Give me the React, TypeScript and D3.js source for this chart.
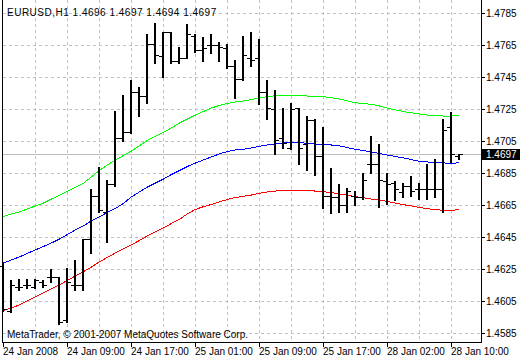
import React from "react";
import * as d3 from "d3";

const symbol = "EURUSD,H1";
const copyright = "MetaTrader, \u00A9 2001-2007 MetaQuotes Software Corp.";

const open = [1.4627,1.4599,1.4614,1.4615,1.4614,1.4617,1.4620,1.4620,1.4593,1.4615,
1.4615,1.4644,1.4671,1.4661,1.4678,1.4707,1.4711,1.4736,1.4733,1.4766,
1.4758,1.4773,1.4755,1.4757,1.4771,1.4762,1.4765,1.4765,1.4763,1.4752,
1.4744,1.4757,1.4757,1.4736,1.4725,1.4707,1.4701,1.4726,1.4703,1.4718,
1.4696,1.4671,1.4670,1.4665,1.4671,1.4670,1.4691,1.4691,1.4680,1.4679,
1.4673,1.4677,1.4675,1.4675,1.4675,1.4675,1.4714,1.4696];
const high = [1.4629,1.4618,1.4619,1.4619,1.4619,1.4618,1.4625,1.4620,1.4626,1.4631,
1.4644,1.4675,1.4689,1.4681,1.4724,1.4734,1.4743,1.4739,1.4772,1.4779,
1.4773,1.4773,1.4764,1.4778,1.4772,1.4770,1.4772,1.4767,1.4766,1.4756,
1.4771,1.4773,1.4769,1.4743,1.4737,1.4726,1.4729,1.4726,1.4721,1.4719,
1.4714,1.4688,1.4678,1.4676,1.4674,1.4685,1.4708,1.4703,1.4685,1.4680,
1.4679,1.4683,1.4679,1.4691,1.4694,1.4719,1.4723,1.4697];
const low = [1.4599,1.4598,1.4612,1.4613,1.4613,1.4614,1.4617,1.4591,1.4592,1.4612,
1.4612,1.4635,1.4661,1.4642,1.4677,1.4705,1.4710,1.4721,1.4729,1.4754,
1.4745,1.4754,1.4754,1.4757,1.4761,1.4755,1.4760,1.4755,1.4751,1.4732,
1.4743,1.4752,1.4728,1.4719,1.4697,1.4701,1.4700,1.4691,1.4687,1.4684,
1.4663,1.4660,1.4661,1.4661,1.4665,1.4669,1.4685,1.4664,1.4666,1.4668,
1.4670,1.4671,1.4669,1.4669,1.4670,1.4661,1.4692,1.4694];
const close = [1.4600,1.4615,1.4614,1.4615,1.4618,1.4615,1.4620,1.4592,1.4617,1.4615,
1.4644,1.4671,1.4662,1.4678,1.4707,1.4711,1.4736,1.4733,1.4766,1.4759,
1.4773,1.4755,1.4757,1.4772,1.4762,1.4763,1.4765,1.4764,1.4752,1.4744,
1.4759,1.4756,1.4736,1.4726,1.4706,1.4704,1.4725,1.4701,1.4718,1.4696,
1.4671,1.4670,1.4665,1.4674,1.4670,1.4681,1.4691,1.4681,1.4678,1.4675,
1.4677,1.4674,1.4675,1.4675,1.4675,1.4712,1.4697,1.4697];

const upperBand = [1.46580,1.46596,1.46608,1.46627,1.46646,1.46664,1.46689,1.46711,1.46736,1.46761,
1.46787,1.46827,1.46867,1.46902,1.46933,1.46961,1.46989,1.47021,1.47055,1.47080,
1.47105,1.47133,1.47164,1.47189,1.47214,1.47236,1.47258,1.47274,1.47286,1.47296,
1.47302,1.47311,1.47322,1.47329,1.47335,1.47338,1.47339,1.47336,1.47333,1.47331,
1.47329,1.47322,1.47314,1.47303,1.47291,1.47286,1.47281,1.47271,1.47258,1.47246,
1.47236,1.47228,1.47221,1.47214,1.47211,1.47208,1.47208,1.47213];
const middleBand = [1.46289,1.46308,1.46327,1.46349,1.46371,1.46392,1.46414,1.46439,1.46467,1.46496,
1.46521,1.46552,1.46577,1.46605,1.46630,1.46661,1.46702,1.46733,1.46764,1.46789,
1.46814,1.46842,1.46867,1.46892,1.46914,1.46933,1.46952,1.46971,1.46986,1.46996,
1.47000,1.47008,1.47019,1.47027,1.47033,1.47039,1.47042,1.47042,1.47037,1.47033,
1.47030,1.47027,1.47021,1.47011,1.47000,1.46992,1.46983,1.46974,1.46964,1.46955,
1.46946,1.46936,1.46925,1.46921,1.46917,1.46916,1.46909,1.46919];
const lowerBand = [1.45992,1.46008,1.46027,1.46052,1.46077,1.46102,1.46127,1.46152,1.46180,1.46208,
1.46235,1.46264,1.46296,1.46324,1.46352,1.46377,1.46402,1.46430,1.46458,1.46483,
1.46508,1.46536,1.46561,1.46596,1.46624,1.46641,1.46655,1.46671,1.46686,1.46699,
1.46706,1.46714,1.46725,1.46733,1.46739,1.46742,1.46744,1.46744,1.46742,1.46739,
1.46735,1.46730,1.46721,1.46714,1.46704,1.46698,1.46689,1.46683,1.46674,1.46664,
1.46654,1.46646,1.46636,1.46629,1.46623,1.46619,1.46616,1.46626];

const priceTicks = [1.4585,1.4605,1.4625,1.4645,1.4665,1.4685,1.4705,1.4725,1.4745,1.4765,1.4785];
const timeLabels = ["24 Jan 2008","24 Jan 09:00","24 Jan 17:00","25 Jan 01:00","25 Jan 09:00","25 Jan 17:00","28 Jan 02:00","28 Jan 10:00"];
const timeLabelBars = [0,8,16,24,32,40,48,56];

const FONT = "'Liberation Sans Narrow', 'Liberation Sans', sans-serif";
const FS = 10;

export default function App() {
  const n = open.length;
  const left = 2, right = 481, bottom = 342;
  const x = d3.scaleLinear().domain([0, n - 1]).range([3.3, 3.3 + 8 * (n - 1)]);
  const y = d3.scaleLinear().domain([1.4585, 1.4785]).range([333.3, 13.3]);
  const fmt = d3.format(".4f");
  const py = (v: number) => Math.round(y(v));
  const line = d3.line<number>().x((_, i) => x(i)).y((v) => y(v));
  const idx = d3.range(n);
  const gridBars = idx.filter((i) => i % 4 === 0 && i > 0);
  const last = n - 1;
  const curY = py(close[last]);
  const title = `${symbol}  ${fmt(open[last])} ${fmt(high[last])} ${fmt(low[last])} ${fmt(close[last])}`;

  return (
    <svg width={520} height={360} style={{ position: "absolute", left: 0, top: 0, background: "#fff" }} fontFamily={FONT} fontSize={FS}>
      <rect x={0} y={0} width={520} height={360} fill="#fff" />
      {priceTicks.map((t) => (
        <line key={"h" + t} x1={left + 1} x2={right} y1={py(t) + 0.5} y2={py(t) + 0.5} stroke="#C0C0C0" strokeDasharray="3,3" />
      ))}
      {gridBars.map((i) => (
        <line key={"v" + i} x1={Math.round(x(i)) + 0.5} x2={Math.round(x(i)) + 0.5} y1={0} y2={bottom} stroke="#C0C0C0" strokeDasharray="3,3" />
      ))}
      <line x1={left + 1} x2={right} y1={curY + 0.5} y2={curY + 0.5} stroke="#C0C0C0" />
      <path d={line(upperBand) || ""} fill="none" stroke="#00FF00" strokeWidth={1} shapeRendering="crispEdges" />
      <path d={line(middleBand) || ""} fill="none" stroke="#0000FF" strokeWidth={1} shapeRendering="crispEdges" />
      <path d={line(lowerBand) || ""} fill="none" stroke="#FF0000" strokeWidth={1} shapeRendering="crispEdges" />
      {idx.map((i) => {
        const cx = Math.round(x(i));
        const yh = py(high[i]);
        const yl = py(low[i]);
        return (
          <g key={"b" + i} fill="#000" shapeRendering="crispEdges">
            <rect x={cx - 1} y={yh} width={2} height={Math.max(1, yl - yh + 1)} />
            <rect x={cx - 4} y={py(open[i])} width={3} height={1} />
            <rect x={cx + 1} y={py(close[i])} width={3} height={1} />
          </g>
        );
      })}
      <line x1={left + 0.5} x2={left + 0.5} y1={0} y2={bottom + 1} stroke="#000" />
      <line x1={right + 0.5} x2={right + 0.5} y1={0} y2={bottom + 1} stroke="#000" />
      <line x1={left} x2={right + 1} y1={bottom + 0.5} y2={bottom + 0.5} stroke="#000" />
      {priceTicks.map((t) => (
        <g key={"pt" + t}>
          <line x1={right + 1} x2={right + 4} y1={py(t) + 0.5} y2={py(t) + 0.5} stroke="#000" />
          <text x={486} y={py(t) + 4} fill="#000">{fmt(t)}</text>
        </g>
      ))}
      <rect x={482} y={curY - 5} width={38} height={11} fill="#000" />
      <text x={486} y={curY + 4} fill="#fff">{fmt(close[last])}</text>
      {timeLabelBars.map((b, k) => {
        const tx = Math.round(x(b));
        return (
          <g key={"tl" + b}>
            <line x1={tx + 0.5} x2={tx + 0.5} y1={bottom} y2={bottom + 5} stroke="#000" />
            <text x={tx} y={355} fill="#000">{timeLabels[k]}</text>
          </g>
        );
      })}
      <text x={7} y={15.5} fill="#000" letterSpacing={0.5}>{title}</text>
      <text x={7} y={338} fill="#000">{copyright}</text>
    </svg>
  );
}
